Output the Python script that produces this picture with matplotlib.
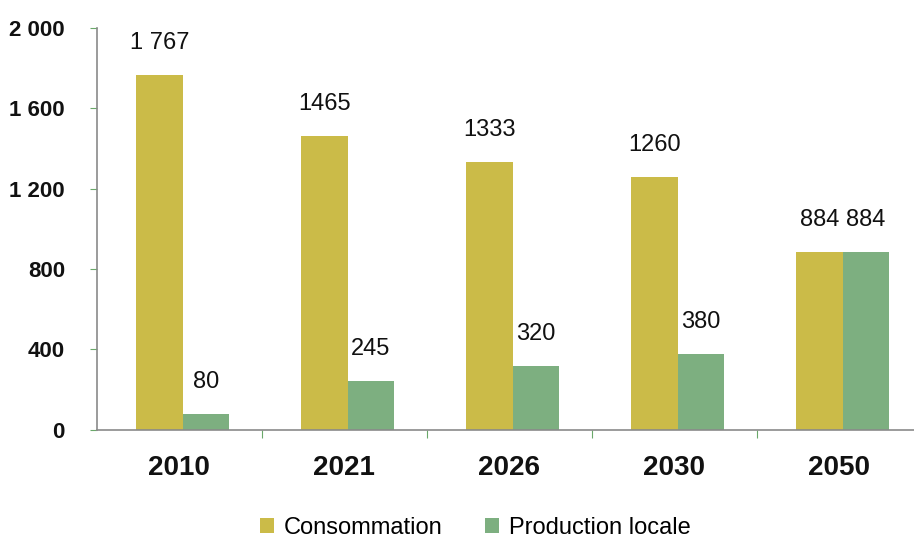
import matplotlib
matplotlib.use("Agg")
import matplotlib.pyplot as plt
import numpy as np

categories = ["2010", "2021", "2026", "2030", "2050"]
consommation = [1767, 1465, 1333, 1260, 884]
production = [80, 245, 320, 380, 884]
cons_labels = ["1 767", "1465", "1333", "1260", "884"]
prod_labels = ["80", "245", "320", "380", "884"]
yticks = [0, 400, 800, 1200, 1600, 2000]
ytick_labels = ["0", "400", "800", "1 200", "1 600", "2 000"]

c_yellow = "#CBBB48"
c_green = "#7DAF80"
axis_col = "#8a8a8a"
tick_col = "#6aa86a"

plt.rcParams['font.family'] = ['Liberation Sans', 'DejaVu Sans']

fig = plt.figure(figsize=(9.14, 5.40), dpi=100)
ax = fig.add_axes([0.106, 0.204, 0.9026, 0.744])

x = np.arange(len(categories))
w = 0.28
b1 = ax.bar(x - w / 2 + 0.02, consommation, w, color=c_yellow, label="Consommation")
b2 = ax.bar(x + w / 2 + 0.02, production, w, color=c_green, label="Production locale")

for rect, lab in zip(b1, cons_labels):
    ax.annotate(lab, (rect.get_x() + rect.get_width() / 2, rect.get_height()),
                xytext=(0, 15), textcoords="offset points", ha="center", va="bottom",
                fontsize=17, color="#111111")
for rect, lab in zip(b2, prod_labels):
    ax.annotate(lab, (rect.get_x() + rect.get_width() / 2, rect.get_height()),
                xytext=(0, 15), textcoords="offset points", ha="center", va="bottom",
                fontsize=17, color="#111111")

ax.set_xlim(-0.5, len(categories) - 0.5)
ax.set_ylim(0, 2000)
ax.set_yticks(yticks)
ax.set_yticklabels(ytick_labels, fontsize=16, fontweight="bold", color="#111111")
ax.set_xticks(x)
ax.set_xticklabels(categories, fontsize=20, fontweight="bold", color="#111111")
ax.tick_params(axis="x", which="major", length=0, pad=18)
ax.set_xticks(np.arange(0.5, len(categories) - 0.5, 1), minor=True)
ax.tick_params(axis="x", which="minor", length=6, color=tick_col, width=0.8)
ax.tick_params(axis="y", length=5, color=tick_col, width=0.8, pad=18)

for s in ["top", "right"]:
    ax.spines[s].set_visible(False)
ax.spines["left"].set_color(axis_col)
ax.spines["bottom"].set_color(axis_col)
ax.spines["left"].set_linewidth(1.2)
ax.spines["bottom"].set_linewidth(1.2)

leg = fig.legend(handles=[b1, b2], loc="center", bbox_to_anchor=(0.52, 0.022),
                 ncol=2, frameon=False, fontsize=17, handlelength=0.6, handleheight=0.6,
                 columnspacing=1.8, handletextpad=0.4)

fig.savefig("out.png", dpi=100)
